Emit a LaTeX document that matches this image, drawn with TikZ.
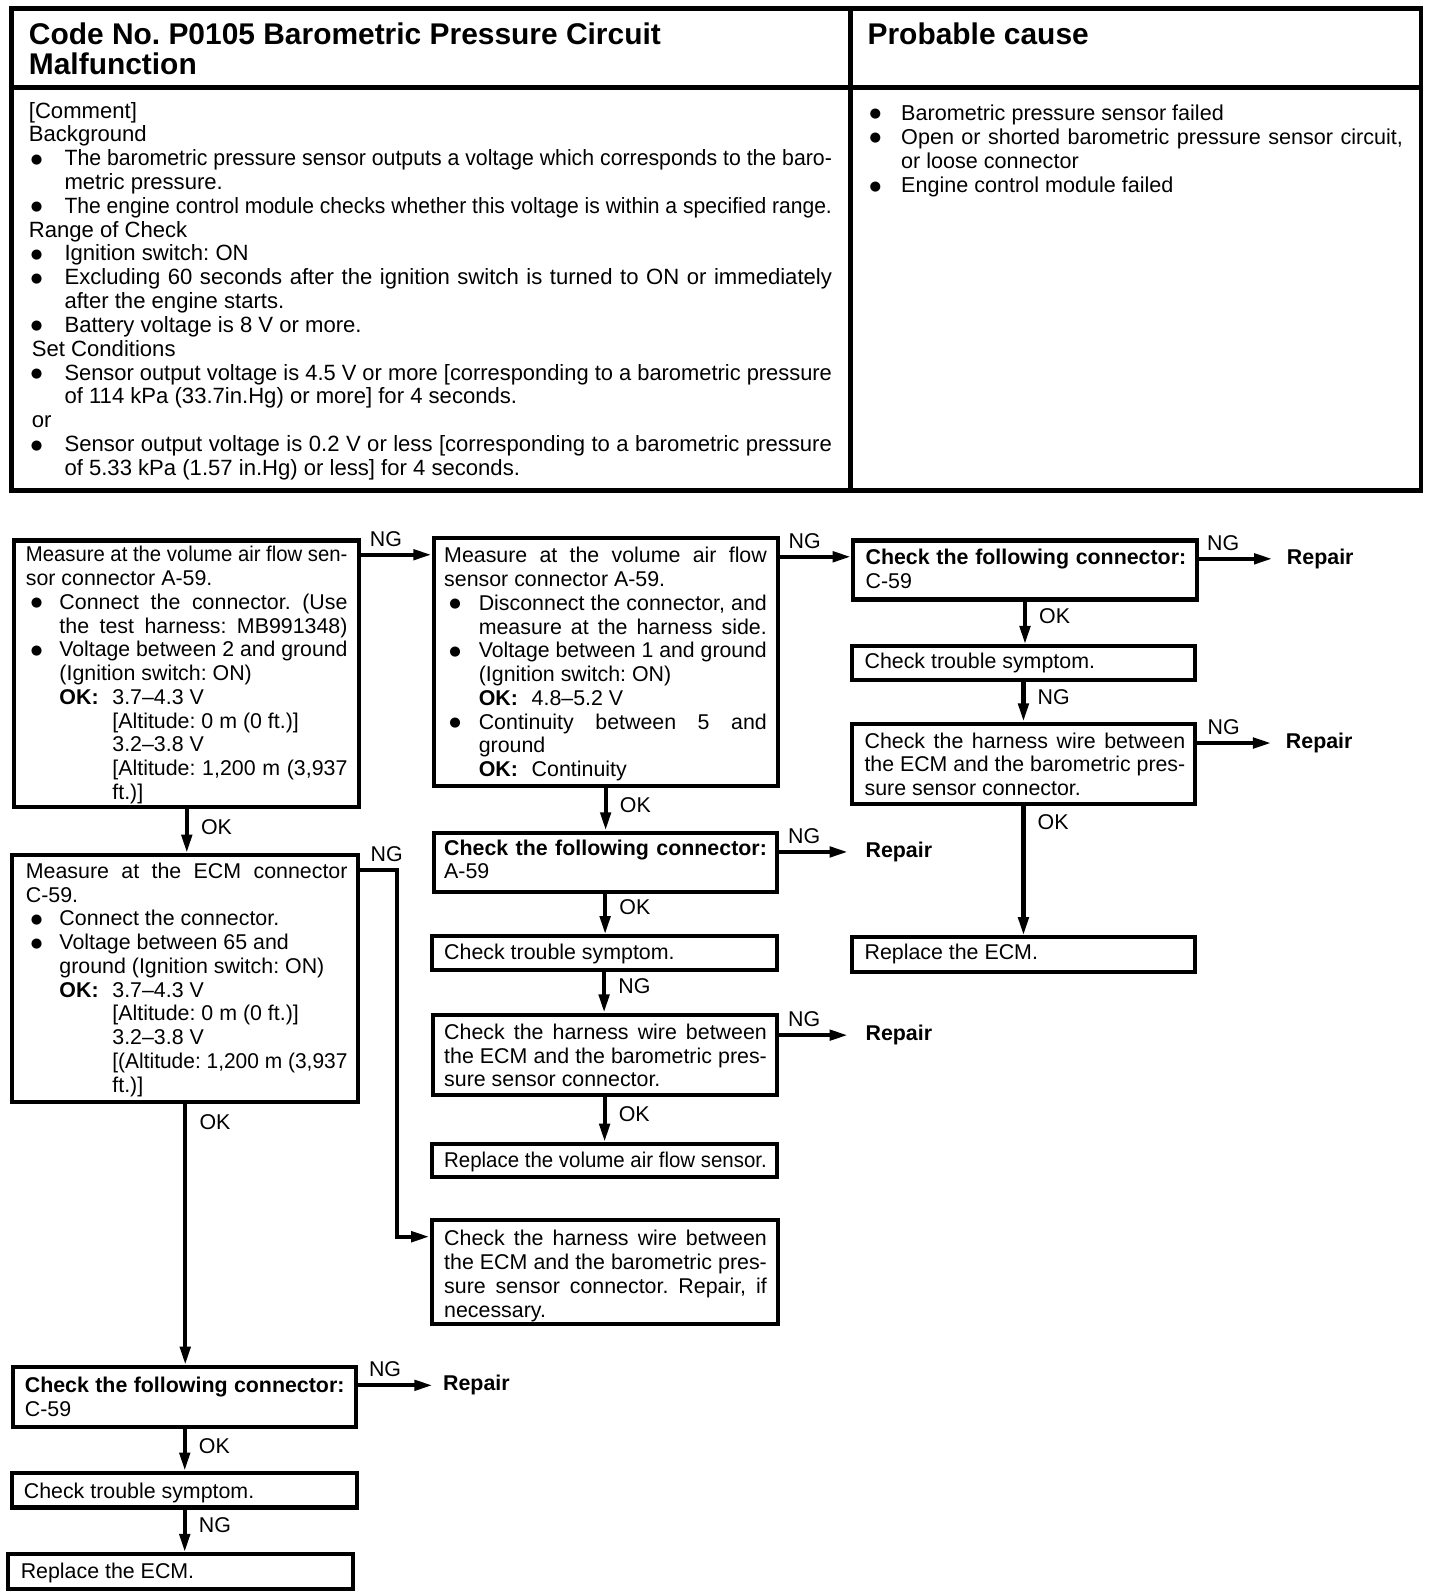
\documentclass[tikz,border=0pt]{standalone}
\usepackage{fontspec}
\setmainfont{Liberation Sans}
\newfontfamily\dejavu{DejaVu Sans}
\usepackage{graphicx}
\usetikzlibrary{arrows.meta,calc}

\newlength\pxl \setlength\pxl{0.5pt}
\newlength\bo \setlength\bo{5\pxl}
\newsavebox\lnbox
\newlength\lnw \newlength\lnn
\newcommand\fitto[2]{%
  \setlength\lnw{#1}%
  \sbox\lnbox{#2}\setlength\lnn{\wd\lnbox}%
  \ifdim\lnn>\lnw
    \pgfmathsetmacro\lnratio{\lnw/\lnn}%
    \scalebox{\lnratio}[1]{\usebox\lnbox}%
  \else
    \makebox[\lnw][s]{#2}%
  \fi}
\newcommand\bigbul{\raisebox{1.2pt}{\dejavu\fontsize{6.5pt}{6.5pt}\selectfont ●}}
\newcommand\Lj[2]{\par\noindent\hspace*{#1\pxl}\fitto{\dimexpr\linewidth-#1\pxl\relax}{#2}}
\newcommand\Ll[2]{\par\noindent\hspace*{#1\pxl}#2}
\newcommand\Bj[2]{\par\noindent\makebox[#1\pxl][l]{\hspace*{\bo}\bigbul}\fitto{\dimexpr\linewidth-#1\pxl\relax}{#2}}
\newcommand\Bl[2]{\par\noindent\makebox[#1\pxl][l]{\hspace*{\bo}\bigbul}#2}
\newcommand\OKl[3]{\par\noindent\hspace*{#1\pxl}\makebox[\dimexpr#2\pxl-#1\pxl\relax][l]{\textbf{OK:}}#3}
\newcommand\flowfont{\fontsize{10.5pt}{11.67pt}\selectfont\frenchspacing}
\newcommand\tblock[5]{\node[txt, anchor=base west] (#1) at (#2,#3) {\begin{minipage}[t]{#4\pxl}#5\end{minipage}};}
\newcommand\mkbox[5]{\node[box, minimum width={(#4-#2)*0.5pt}, minimum height={(#5-#3)*0.5pt}] (#1) at ({(#2+#4)/2},{(#3+#5)/2}) {};}

\tikzset{
  box/.style={draw, rectangle, line width=2pt, inner sep=0pt},
  tbl/.style={line width=2.4pt},
  txt/.style={inner sep=0pt, font=\flowfont},
  lbl/.style={inner sep=1pt, font=\flowfont},
  rep/.style={inner sep=0pt, font=\flowfont\bfseries},
  arr/.style={line width=2pt, -{Triangle[length=9pt,width=5pt]}}
}

\begin{document}
\begin{tikzpicture}[x=0.5pt,y=-0.5pt]
\useasboundingbox (0,0) rectangle (1415,1568);
\fill[white] (0,0) rectangle (1415,1568);

% ---------- top table ----------
\draw[tbl] (11,8.5) rectangle (1396,482);
\draw[tbl] (836,8.5) -- (836,482);
\draw[tbl] (11,86) -- (1396,86);

\node[inner sep=0pt, anchor=base west, font=\fontsize{14.7pt}{14.5pt}\selectfont\bfseries\frenchspacing] (hdrL) at (28,44)
  {\begin{minipage}[t]{780\pxl}Code No. P0105 Barometric Pressure Circuit\par Malfunction\end{minipage}};
\node[inner sep=0pt, anchor=base west, font=\fontsize{14.7pt}{14.5pt}\selectfont\bfseries] (hdrR) at (852,44) {Probable cause};

\node[inner sep=0pt, anchor=base west, font=\fontsize{10.85pt}{11.7pt}\selectfont\frenchspacing] (bodyL) at (28,116)
 {\begin{minipage}[t]{789\pxl}\setlength\bo{2\pxl}%
 \Ll{0}{[Comment]}
 \Ll{0}{Background}
 \Bj{35}{The barometric pressure sensor outputs a voltage which corresponds to the baro-}
 \Ll{35}{metric pressure.}
 \Bj{35}{The engine control module checks whether this voltage is within a specified range.}
 \Ll{0}{Range of Check}
 \Bl{35}{Ignition switch: ON}
 \Bj{35}{Excluding 60 seconds after the ignition switch is turned to ON or immediately}
 \Ll{35}{after the engine starts.}
 \Bl{35}{Battery voltage is 8 V or more.}
 \Ll{3}{Set Conditions}
 \Bj{35}{Sensor output voltage is 4.5 V or more [corresponding to a barometric pressure}
 \Ll{35}{of 114 kPa (33.7in.Hg) or more] for 4 seconds.}
 \Ll{3}{or}
 \Bj{35}{Sensor output voltage is 0.2 V or less [corresponding to a barometric pressure}
 \Ll{35}{of 5.33 kPa (1.57 in.Hg) or less] for 4 seconds.}
 \end{minipage}};

\node[inner sep=0pt, anchor=base west, font=\fontsize{10.6pt}{11.9pt}\selectfont\frenchspacing] (bodyR) at (852,118)
 {\begin{minipage}[t]{526\pxl}\setlength\bo{2\pxl}%
 \Bl{33}{Barometric pressure sensor failed}
 \Bj{33}{Open or shorted barometric pressure sensor circuit,}
 \Ll{33}{or loose connector}
 \Bl{33}{Engine control module failed}
 \end{minipage}};

% ---------- boxes ----------
\mkbox{b1}{14}{531}{353}{793}
\mkbox{b2}{12}{840}{352}{1083}
\mkbox{b10}{13}{1343}{350}{1402}
\mkbox{b11}{12}{1447}{351}{1481}
\mkbox{b12}{8}{1527}{347}{1561}
\mkbox{b3}{426}{529}{764}{772}
\mkbox{b4}{426}{818}{763}{876}
\mkbox{b5b}{424}{920}{763}{953}
\mkbox{b6}{425}{997}{763}{1076}
\mkbox{b7}{424}{1124}{763}{1156}
\mkbox{b9}{424}{1199}{764}{1301}
\mkbox{b5}{838}{531}{1176}{589}
\mkbox{b13}{837}{635}{1174}{668}
\mkbox{b14}{837}{711}{1174}{790}
\mkbox{b15}{837}{921}{1174}{955}

% ---------- box texts ----------
\tblock{t1}{25}{552}{316}{%
 \Lj{0}{Measure at the volume air flow sen-}
 \Ll{0}{sor connector A-59.}
 \Bj{33}{Connect the connector. (Use}
 \Lj{33}{the test harness: MB991348)}
 \Bj{33}{Voltage between 2 and ground}
 \Ll{33}{(Ignition switch: ON)}
 \OKl{33}{85}{3.7\textendash 4.3 V}
 \Ll{85}{[Altitude: 0 m (0 ft.)]}
 \Ll{85}{3.2\textendash 3.8 V}
 \Lj{85}{[Altitude: 1,200 m (3,937}
 \Ll{85}{ft.)]}}

\tblock{t2}{25}{863}{316}{%
 \Lj{0}{Measure at the ECM connector}
 \Ll{0}{C-59.}
 \Bl{33}{Connect the connector.}
 \Bl{33}{Voltage between 65 and}
 \Ll{33}{ground (Ignition switch: ON)}
 \OKl{33}{85}{3.7\textendash 4.3 V}
 \Ll{85}{[Altitude: 0 m (0 ft.)]}
 \Ll{85}{3.2\textendash 3.8 V}
 \Lj{85}{[(Altitude: 1,200 m (3,937}
 \Ll{85}{ft.)]}}

\tblock{t10}{24}{1368}{314}{%
 \Lj{0}{\bfseries Check the following connector:}
 \Ll{0}{C-59}}
\tblock{t11}{23}{1472}{316}{\Ll{0}{Check trouble symptom.}}
\tblock{t12}{20}{1551}{316}{\Ll{0}{Replace the ECM.}}

\tblock{t3}{436}{553}{317}{%
 \Lj{0}{Measure at the volume air flow}
 \Ll{0}{sensor connector A-59.}
 \Bj{34}{Disconnect the connector, and}
 \Lj{34}{measure at the harness side.}
 \Bj{34}{Voltage between 1 and ground}
 \Ll{34}{(Ignition switch: ON)}
 \OKl{34}{86}{4.8\textendash 5.2 V}
 \Bj{34}{Continuity between 5 and}
 \Ll{34}{ground}
 \OKl{34}{86}{Continuity}}

\tblock{t4}{436}{840}{317}{%
 \Lj{0}{\bfseries Check the following connector:}
 \Ll{0}{A-59}}
\tblock{t5b}{436}{943}{317}{\Ll{0}{Check trouble symptom.}}
\tblock{t6}{436}{1021}{317}{%
 \Lj{0}{Check the harness wire between}
 \Lj{0}{the ECM and the barometric pres-}
 \Ll{0}{sure sensor connector.}}
\tblock{t7}{436}{1147}{317}{\Lj{0}{Replace the volume air flow sensor.}}
\tblock{t9}{436}{1224}{317}{%
 \Lj{0}{Check the harness wire between}
 \Lj{0}{the ECM and the barometric pres-}
 \Lj{0}{sure sensor connector. Repair, if}
 \Ll{0}{necessary.}}

\tblock{t5}{850}{555}{315}{%
 \Lj{0}{\bfseries Check the following connector:}
 \Ll{0}{C-59}}
\tblock{t13}{849}{657}{315}{\Ll{0}{Check trouble symptom.}}
\tblock{t14}{849}{735}{315}{%
 \Lj{0}{Check the harness wire between}
 \Lj{0}{the ECM and the barometric pres-}
 \Ll{0}{sure sensor connector.}}
\tblock{t15}{849}{943}{315}{\Ll{0}{Replace the ECM.}}

% ---------- repair nodes ----------
\node[rep, anchor=west] (r1) at (1264,549) {Repair};
\node[rep, anchor=west] (r4) at (1263,730) {Repair};
\node[rep, anchor=west] (r2) at (850,837) {Repair};
\node[rep, anchor=west] (r3) at (850,1017) {Repair};
\node[rep, anchor=west] (r5) at (435,1361) {Repair};

% ---------- connectors ----------
\path (b1.north east) ++(0,16) coordinate (c1);
\path (b2.north east) ++(0,17) coordinate (c2);
\path (b9.north west) ++(0,18) coordinate (c3);
\path (b3.north east) ++(0,20) coordinate (c4);

\draw[arr] (c1) -- node[lbl, pos=.35, anchor=south, yshift=2pt] (n1) {NG} (c1 -| b3.west);
\draw[arr] (c2) -- node[lbl, pos=.72, anchor=south, yshift=2pt] (n2) {NG} ++(36,0) |- (c3);
\draw[arr] (c4) -- node[lbl, pos=.35, anchor=south, yshift=2pt] (n3) {NG} (c4 -| b5.west);
\draw[arr] (b5.east |- r1.west) -- node[lbl, pos=.33, anchor=south, yshift=2pt] (n4) {NG} ([xshift=-7pt]r1.west);
\draw[arr] (b14.east |- r4.west) -- node[lbl, pos=.36, anchor=south, yshift=2pt] (n5) {NG} ([xshift=-7pt]r4.west);
\draw[arr] (b4.east |- r2.west) -- node[lbl, pos=.37, anchor=south, yshift=2pt] (n6) {NG} ([xshift=-8.5pt]r2.west);
\draw[arr] (b6.east |- r3.west) -- node[lbl, pos=.37, anchor=south, yshift=2pt] (n7) {NG} ([xshift=-8.5pt]r3.west);
\draw[arr] (b10.east |- r5.west) -- node[lbl, pos=.36, anchor=south, yshift=2pt] (n8) {NG} ([xshift=-5pt]r5.west);

\draw[arr] (b1.south) -- node[lbl, pos=.4, anchor=west, xshift=5pt] (o1) {OK} (b1.south |- b2.north);
\draw[arr] (b2.south) -- node[lbl, pos=.07, anchor=west, xshift=5pt] (o2) {OK} (b2.south |- b10.north);
\draw[arr] (b10.south) -- node[lbl, pos=.4, anchor=west, xshift=5pt] (o3) {OK} (b10.south |- b11.north);
\draw[arr] (b11.south) -- node[lbl, pos=.36, anchor=west, xshift=5pt] (o4) {NG} (b11.south |- b12.north);

\draw[arr] (b3.south) -- node[lbl, pos=.4, anchor=west, xshift=5pt] (o5) {OK} (b3.south |- b4.north);
\draw[arr] (b4.south) -- node[lbl, pos=.32, anchor=west, xshift=5pt] (o6) {OK} (b4.south |- b5b.north);
\draw[arr] (b5b.south) -- node[lbl, pos=.35, anchor=west, xshift=5pt] (o7) {NG} (b5b.south |- b6.north);
\draw[arr] (b6.south) -- node[lbl, pos=.37, anchor=west, xshift=5pt] (o8) {OK} (b6.south |- b7.north);

\draw[arr] (b5.south) -- node[lbl, pos=.35, anchor=west, xshift=5pt] (o9) {OK} (b5.south |- b13.north);
\draw[arr] (b13.south) -- node[lbl, pos=.37, anchor=west, xshift=5pt] (o10) {NG} (b13.south |- b14.north);
\draw[arr] (b14.south) -- node[lbl, pos=.12, anchor=west, xshift=5pt] (o11) {OK} (b14.south |- b15.north);
\end{tikzpicture}
\end{document}
